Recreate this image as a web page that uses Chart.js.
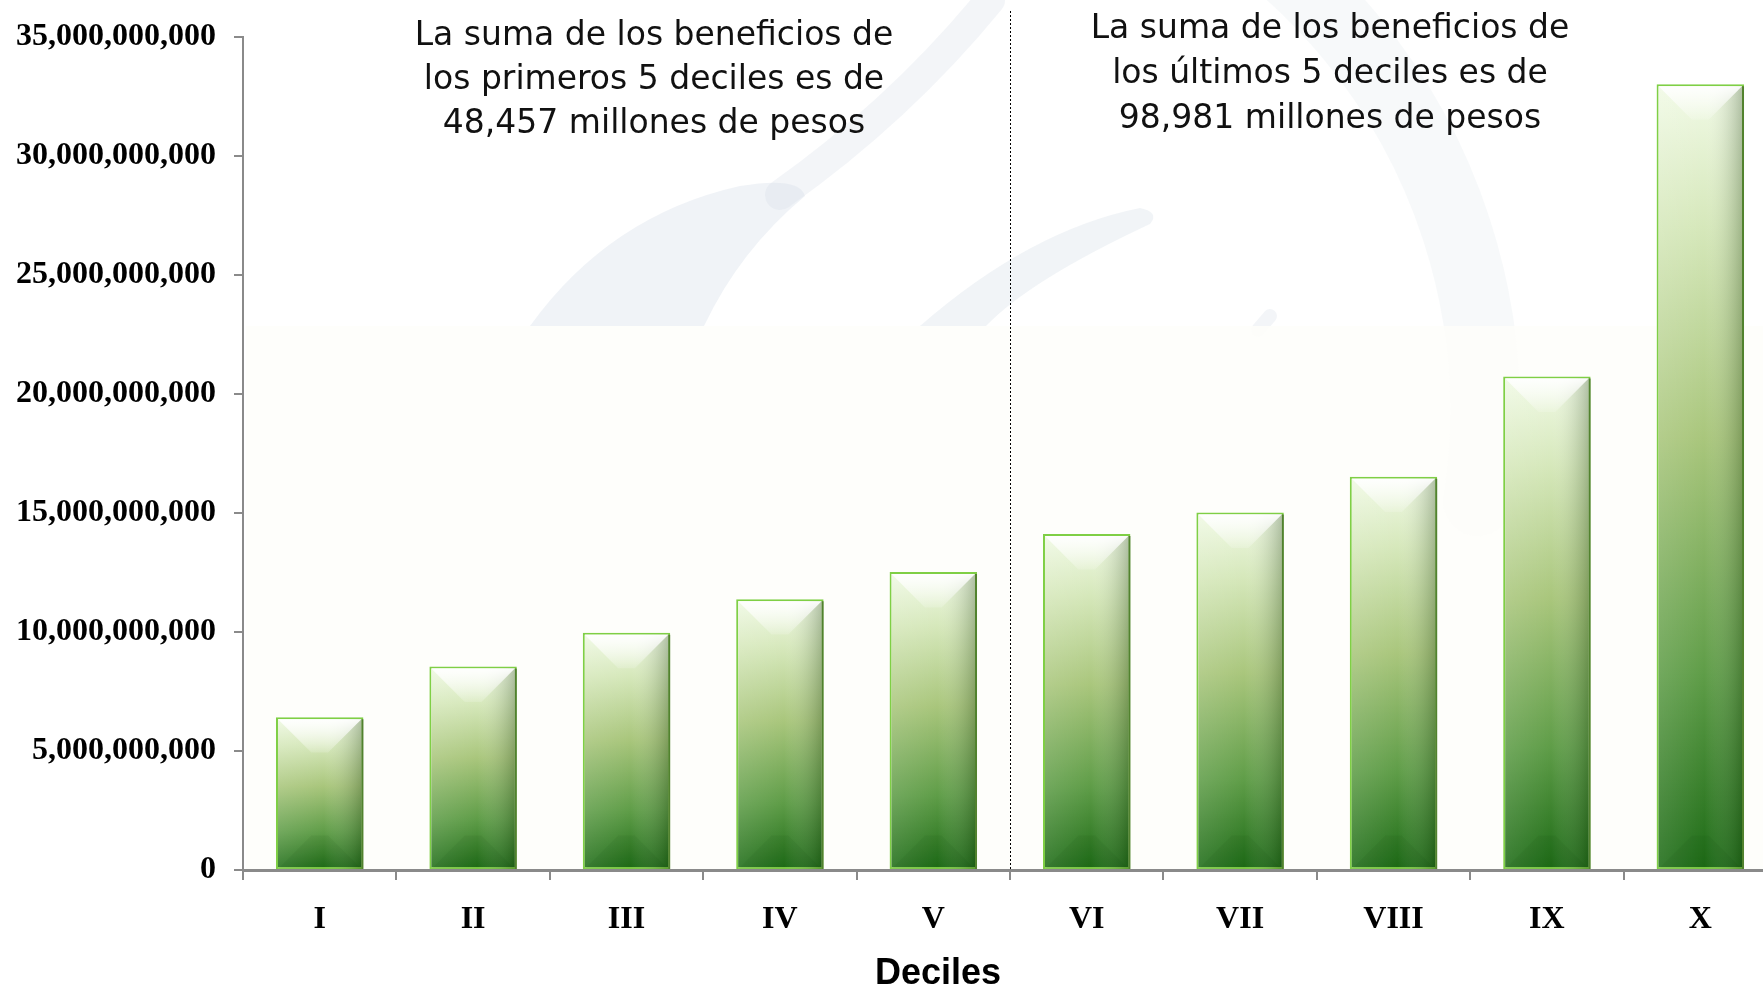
<!DOCTYPE html>
<html>
<head>
<meta charset="utf-8">
<script src="https://cdn.jsdelivr.net/npm/chart.js@4.4.1/dist/chart.umd.min.js"></script>
<style>
  html, body { margin: 0; padding: 0; background: #fff; overflow: hidden; }
  #wrap { position: relative; width: 1780px; height: 987px; }
</style>
</head>
<body>
<div id="wrap"><canvas id="chart" width="1780" height="987"></canvas></div>
<script>
// datos
const DECILES = ["I", "II", "III", "IV", "V", "VI", "VII", "VIII", "IX", "X"];
const BENEFICIOS = [
  6420000000, 8550000000, 9970000000, 11380000000, 12520000000,
  14120000000, 15020000000, 16530000000, 20740000000, 33020000000
];
const Y_MAX = 35000000000;
const Y_STEP = 5000000000;
const NOTA_IZQ = ["La suma de los beneficios de", "los primeros 5 deciles es de", "48,457 millones de pesos"];
const NOTA_DER = ["La suma de los beneficios de", "los últimos 5 deciles es de", "98,981 millones de pesos"];
const X_TITLE = "Deciles";

const AXIS_GRAY = "#8a8a8a";

function fmt(n) {
  return Number(n).toLocaleString("en-US", { maximumFractionDigits: 0 });
}

// degradado vertical por barra (claro arriba, verde oscuro abajo)
function barFill(ctx) {
  const chart = ctx.chart;
  const { chartArea, scales } = chart;
  if (!chartArea || ctx.type !== "data") return "#8fbf68";
  const top = scales.y.getPixelForValue(ctx.raw);
  const bottom = scales.y.getPixelForValue(0);
  const g = chart.ctx.createLinearGradient(0, top, 0, bottom);
  g.addColorStop(0, "#f1fae6");
  g.addColorStop(0.18, "#d6e8bb");
  g.addColorStop(0.45, "#a9c67c");
  g.addColorStop(0.75, "#5f9d48");
  g.addColorStop(1, "#1d6b16");
  return g;
}

// marca de agua muy tenue detras del grafico
const watermark = {
  id: "watermark",
  beforeDraw(chart) {
    const c = chart.ctx;
    c.save();
    c.globalAlpha = 0.5;
    c.lineCap = "round";
    // anillo grande
    c.strokeStyle = "rgba(228,234,240,0.6)";
    c.lineWidth = 70;
    c.beginPath();
    c.arc(900, 410, 585, -Math.PI * 0.6, Math.PI * 0.05);
    c.stroke();
    // trazo ancho (hoja)
    c.fillStyle = "rgba(214,223,233,0.75)";
    c.beginPath();
    c.moveTo(530, 326);
    c.quadraticCurveTo(610, 215, 740, 186);
    c.quadraticCurveTo(800, 176, 805, 196);
    c.quadraticCurveTo(740, 250, 704, 326);
    c.closePath();
    c.fill();
    // cola delgada
    c.strokeStyle = "rgba(214,223,233,0.6)";
    c.lineWidth = 30;
    c.beginPath();
    c.moveTo(780, 195);
    c.quadraticCurveTo(900, 110, 990, 0);
    c.stroke();
    // segundo trazo
    c.fillStyle = "rgba(214,223,233,0.7)";
    c.beginPath();
    c.moveTo(920, 326);
    c.quadraticCurveTo(1030, 230, 1140, 208);
    c.quadraticCurveTo(1160, 212, 1150, 224);
    c.quadraticCurveTo(1030, 280, 986, 326);
    c.closePath();
    c.fill();
    c.lineWidth = 14;
    c.beginPath();
    c.moveTo(1258, 330);
    c.lineTo(1270, 316);
    c.stroke();
    c.globalAlpha = 1;
    // rectangulo palido que tapa la parte baja
    c.fillStyle = "rgba(254,254,251,0.92)";
    c.fillRect(246, 326, 1530, 544);
    c.restore();
  }
};

// brillo y bisel de cada barra, sobre la geometria que calcula Chart.js
const bevel = {
  id: "bevel",
  afterDatasetsDraw(chart) {
    const c = chart.ctx;
    const meta = chart.getDatasetMeta(0);
    c.save();
    meta.data.forEach(bar => {
      const { x, y, base, width } = bar.getProps(["x", "y", "base", "width"], true);
      const l = x - width / 2 + 2, r = x + width / 2 - 2, t = y + 2, b = base;
      const w = r - l;
      // sombra lateral derecha
      const h = c.createLinearGradient(l, 0, r, 0);
      h.addColorStop(0, "rgba(255,255,255,0.12)");
      h.addColorStop(0.55, "rgba(255,255,255,0)");
      h.addColorStop(1, "rgba(20,50,10,0.28)");
      c.fillStyle = h;
      c.fillRect(l, t, w, b - t);
      // bisel superior
      const d = Math.min(w * 0.4, (b - t) * 0.5);
      const v = c.createLinearGradient(0, t, 0, t + d);
      v.addColorStop(0, "rgba(255,255,255,0.95)");
      v.addColorStop(1, "rgba(255,255,255,0.15)");
      c.fillStyle = v;
      c.beginPath();
      c.moveTo(l, t);
      c.lineTo(r, t);
      c.lineTo(r - d, t + d);
      c.lineTo(l + d, t + d);
      c.closePath();
      c.fill();
      // bisel inferior
      c.fillStyle = "rgba(0,40,0,0.05)";
      c.beginPath();
      c.moveTo(l, b);
      c.lineTo(l + d, b - d);
      c.lineTo(r - d, b - d);
      c.lineTo(r, b);
      c.closePath();
      c.fill();
      // borde derecho mas oscuro
      c.strokeStyle = "rgba(70,110,40,0.8)";
      c.lineWidth = 2;
      c.beginPath();
      c.moveTo(r + 1, t);
      c.lineTo(r + 1, b);
      c.stroke();
    });
    c.restore();
  }
};

// linea punteada divisoria, textos y titulo del eje
const notas = {
  id: "notas",
  afterDraw(chart) {
    const c = chart.ctx;
    const xs = chart.scales.x;
    const area = chart.chartArea;
    const xDiv = (xs.getPixelForTick(4) + xs.getPixelForTick(5)) / 2;
    c.save();
    c.strokeStyle = "#000";
    c.lineWidth = 1;
    c.setLineDash([2, 2]);
    c.beginPath();
    c.moveTo(Math.round(xDiv) + 0.5, 11);
    c.lineTo(Math.round(xDiv) + 0.5, area.bottom);
    c.stroke();
    c.setLineDash([]);

    c.fillStyle = "#111";
    c.font = "33px 'DejaVu Sans'";
    c.textAlign = "center";
    c.textBaseline = "middle";
    NOTA_IZQ.forEach((s, i) => c.fillText(s, 654, 36 + i * 44));
    NOTA_DER.forEach((s, i) => c.fillText(s, 1330, 29 + i * 45));

    c.fillStyle = "#000";
    c.font = "bold 36px 'Liberation Sans'";
    c.fillText(X_TITLE, 938, 974);
    c.restore();
  }
};

new Chart(document.getElementById("chart"), {
  type: "bar",
  data: {
    labels: DECILES,
    datasets: [{
      data: BENEFICIOS,
      backgroundColor: barFill,
      borderColor: "#7fcf45",
      borderWidth: 2,
      borderSkipped: false,
      categoryPercentage: 1,
      barPercentage: 0.57
    }]
  },
  options: {
    responsive: false,
    animation: false,
    devicePixelRatio: 1,
    layout: { padding: { top: 37, right: 3, left: 0, bottom: 0 } },
    plugins: {
      legend: { display: false },
      tooltip: { enabled: false }
    },
    scales: {
      x: {
        grid: {
          offset: true,
          drawOnChartArea: false,
          drawTicks: true,
          tickLength: 10,
          color: AXIS_GRAY,
          lineWidth: 2
        },
        border: { color: AXIS_GRAY, width: 3 },
        ticks: {
          color: "#000",
          padding: 21,
          font: { family: "'Liberation Serif'", weight: "bold", size: 32 }
        },
        afterFit(scale) { scale.height = 117; }
      },
      y: {
        min: 0,
        max: Y_MAX,
        grid: {
          drawOnChartArea: false,
          drawTicks: true,
          tickLength: 9,
          color: AXIS_GRAY,
          lineWidth: 2
        },
        border: { color: AXIS_GRAY, width: 2 },
        ticks: {
          stepSize: Y_STEP,
          color: "#000",
          padding: 18,
          font: { family: "'Liberation Serif'", weight: "bold", size: 32 },
          callback: v => fmt(v)
        },
        afterFit(scale) { scale.width = 243; }
      }
    }
  },
  plugins: [watermark, bevel, notas]
});
</script>
</body>
</html>
